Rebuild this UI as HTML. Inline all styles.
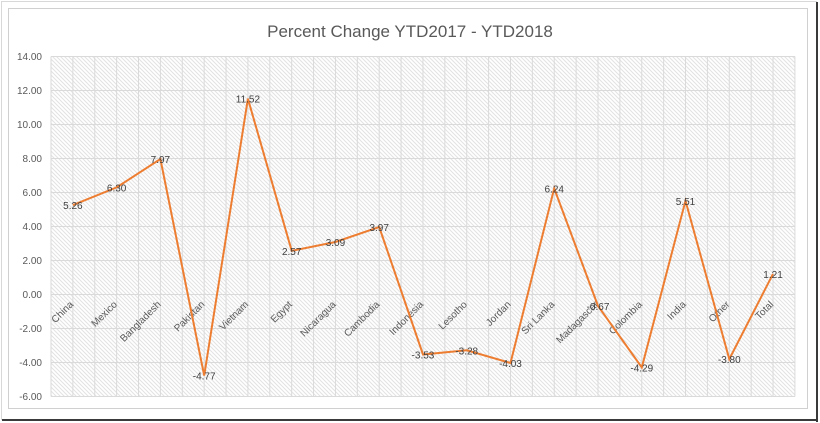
<!DOCTYPE html>
<html><head><meta charset="utf-8"><style>
html,body{margin:0;padding:0;background:#fff;}
svg{display:block;font-family:"Liberation Sans",sans-serif;}
</style></head><body>
<svg width="820" height="423" viewBox="0 0 820 423" xmlns="http://www.w3.org/2000/svg">
<defs>
<pattern id="h" width="4" height="4" patternUnits="userSpaceOnUse">
<rect width="4" height="4" fill="#fff"/>
<path d="M-1,-1 L5,5 M-1,3 L1,5 M3,-1 L5,1" stroke="#e2e2e2" stroke-width="1"/>
</pattern>
</defs>
<rect x="0" y="0" width="820" height="423" fill="#fff"/>
<line x1="1.5" y1="1" x2="1.5" y2="420" stroke="#d8d8d8"/>
<line x1="1" y1="1.5" x2="817" y2="1.5" stroke="#d8d8d8"/>
<rect x="816" y="2" width="2" height="420" fill="#3a3a3a"/>
<rect x="2" y="419" width="816" height="2" fill="#3a3a3a"/>
<rect x="8.5" y="8.5" width="799" height="400" fill="#fff" stroke="#d0d0d0"/>
<text x="410" y="37" text-anchor="middle" font-size="17" fill="#595959">Percent Change YTD2017 - YTD2018</text>
<rect x="51" y="56.5" width="744" height="340" fill="url(#h)"/>
<g stroke="#dadada" stroke-width="1">
<line x1="51" x2="795" y1="56.5" y2="56.5"/><line x1="51" x2="795" y1="90.5" y2="90.5"/>
<line x1="51" x2="795" y1="124.5" y2="124.5"/><line x1="51" x2="795" y1="158.5" y2="158.5"/>
<line x1="51" x2="795" y1="192.5" y2="192.5"/><line x1="51" x2="795" y1="226.5" y2="226.5"/>
<line x1="51" x2="795" y1="260.5" y2="260.5"/><line x1="51" x2="795" y1="294.5" y2="294.5"/>
<line x1="51" x2="795" y1="328.5" y2="328.5"/><line x1="51" x2="795" y1="362.5" y2="362.5"/>
<line x1="51" x2="795" y1="396.5" y2="396.5"/>
</g>
<g font-size="10" fill="#595959" text-anchor="end">
<text x="42" y="60">14.00</text><text x="42" y="94">12.00</text><text x="42" y="128">10.00</text>
<text x="42" y="162">8.00</text><text x="42" y="196">6.00</text><text x="42" y="230">4.00</text>
<text x="42" y="264">2.00</text><text x="42" y="298">0.00</text><text x="42" y="332">-2.00</text>
<text x="42" y="366">-4.00</text><text x="42" y="400">-6.00</text>
</g>
<g id="cats" font-size="10" fill="#595959" text-anchor="end"></g>
<polyline id="ln" fill="none" stroke="#ed7d31" stroke-width="2" stroke-linejoin="miter"/>
<g id="lbl" font-size="10" fill="#404040" text-anchor="middle"></g>
<script>
var n=["China","Mexico","Bangladesh","Pakistan","Vietnam","Egypt","Nicaragua","Cambodia","Indonesia","Lesotho","Jordan","Sri Lanka","Madagascar","Colombia","India","Other","Total"];
var v=[5.26,6.30,7.97,-4.77,11.52,2.57,3.09,3.97,-3.53,-3.28,-4.03,6.24,-0.67,-4.29,5.51,-3.80,1.21];
var NS="http://www.w3.org/2000/svg",pts=[],c=document.getElementById("cats"),l=document.getElementById("lbl"),g=document.querySelector("g[stroke]");
for(var i=0;i<=34;i++){var x=51+21.88*i;var e=document.createElementNS(NS,"line");e.setAttribute("x1",x);e.setAttribute("x2",x);e.setAttribute("y1",56.5);e.setAttribute("y2",396.5);g.appendChild(e);}
for(var i=0;i<17;i++){var x=51+43.76*(i+0.5),y=294.5-v[i]*17;pts.push(x.toFixed(1)+","+y.toFixed(1));
var t=document.createElementNS(NS,"text");t.setAttribute("transform","translate("+(x+1)+",305) rotate(-45)");t.textContent=n[i];c.appendChild(t);
var d=document.createElementNS(NS,"text");d.setAttribute("x",x);d.setAttribute("y",y+4);d.textContent=v[i].toFixed(2);l.appendChild(d);}
document.getElementById("ln").setAttribute("points",pts.join(" "));
</script>
</svg>
</body></html>
